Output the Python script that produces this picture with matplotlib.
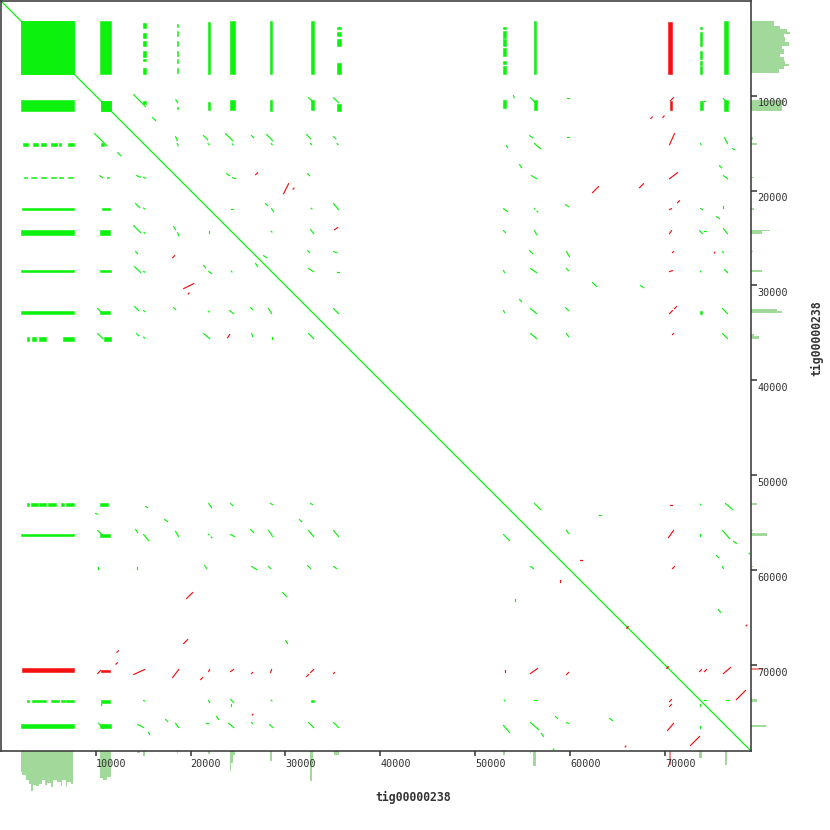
import matplotlib
matplotlib.use("Agg")
import matplotlib.pyplot as plt
from matplotlib.collections import LineCollection
from matplotlib.patches import Rectangle
from matplotlib.transforms import ScaledTranslation
import numpy as np

# ---------------- data (kb) ----------------
seq_name = "tig00000238"
seq_len = 79.0
tick_vals = [10, 20, 30, 40, 50, 60, 70]
tick_labels = ["10000", "20000", "30000", "40000", "50000", "60000", "70000"]

# dense self-alignment blocks (upper triangle; mirrored when drawn)
blk_x0 = [2.11, 10.43, 10.53, 14.96, 18.55, 21.80, 24.12, 28.33, 32.65, 35.39, 52.88, 56.14, 70.47, 73.63, 76.26, 73.63]
blk_x1 = [7.69, 11.59, 11.59, 15.27, 18.70, 22.01, 24.65, 28.60, 32.97, 35.81, 53.19, 56.46, 70.68, 74.00, 76.68, 73.94]
blk_y0 = [2.11, 2.11, 10.53, 10.53, 11.17, 10.64, 10.43, 10.43, 10.43, 10.85, 10.43, 10.43, 10.53, 10.53, 10.43, 32.65]
blk_y1 = [7.69, 7.69, 11.59, 10.85, 11.45, 11.48, 11.48, 11.59, 11.48, 11.59, 11.27, 11.48, 11.48, 11.48, 11.59, 32.97]
blk_strand = ["+"] * 12 + ["-", "+", "+", "+"]

# repeat-copy bands against the tandem array (x range, y pieces)
copy_x0 = [14.96, 18.54, 21.80, 24.12, 28.33, 32.65, 35.39, 52.88, 56.14, 70.36, 73.63, 76.26]
copy_x1 = [15.27, 18.70, 22.01, 24.65, 28.54, 32.97, 35.81, 53.19, 56.35, 70.68, 73.94, 76.68]
copy_strand = ["+", "+", "+", "+", "+", "+", "+", "+", "+", "-", "+", "+"]
copy_pieces = [
    [(2.32, 2.84), (3.37, 3.90), (4.21, 4.74), (5.27, 5.90), (6.11, 6.32), (7.06, 7.69)],
    [(2.42, 2.74), (3.16, 3.69), (4.21, 4.74), (5.27, 5.79), (6.11, 6.53), (7.06, 7.58)],
    [(2.21, 7.69)],
    [(2.11, 7.69)],
    [(2.11, 7.69)],
    [(2.11, 7.69)],
    [(2.74, 2.95), (3.27, 3.69), (4.00, 4.74), (6.53, 7.69)],
    [(2.74, 2.95), (3.16, 3.90), (4.00, 4.74), (4.95, 5.79), (6.32, 6.64), (6.85, 7.69)],
    [(2.11, 7.69)],
    [(2.21, 7.69)],
    [(2.74, 2.95), (3.27, 4.74), (5.27, 6.11), (6.32, 6.74), (6.85, 7.69)],
    [(2.11, 7.69)],
]

# individual alignments (upper triangle; mirrored when drawn)
seg_x0 = [14.01, 18.45, 32.44, 35.07, 55.82, 70.57, 74.15, 76.15, 54.03, 59.62, 68.50, 69.76, 16.01,
          18.43, 18.60, 21.38, 21.85, 23.70, 24.40, 26.44, 28.02, 28.50, 32.23, 32.65, 35.07, 35.45, 53.30,
          55.72, 56.25, 59.62, 70.47, 73.73, 76.26, 77.10,
          23.80, 24.44, 26.86, 32.34, 29.81, 30.80, 54.67, 55.93, 70.47, 75.73, 76.15, 62.36, 67.31,
          24.23, 27.91, 28.54, 32.72, 35.07, 52.98, 56.22, 56.52, 59.51, 71.31, 70.47, 73.73, 76.15, 75.42,
          28.50, 32.65, 35.18, 52.98, 56.25, 70.47, 73.63, 74.15, 76.15,
          32.34, 35.07, 27.70, 55.72, 59.62, 70.78, 75.18, 76.05,
          32.44, 35.39, 52.98, 55.82, 59.62, 70.47, 73.70, 76.26,
          62.36, 67.41, 54.67,
          35.07, 52.98, 55.82, 59.51, 70.47, 70.99, 76.05,
          55.82, 59.62, 70.78, 76.05,
          56.25, 62.99, 70.47, 73.70, 76.37,
          59.62, 70.36, 73.73, 76.05, 77.21, 78.85, 60.99, 75.42, 70.78, 76.05, 75.63, 78.54, 65.98, 70.20,
          73.63, 74.15, 76.15, 77.52,
          74.15, 76.47]
seg_y0 = [9.90, 10.45, 10.22, 10.22, 10.22, 10.53, 10.53, 10.32, 10.00, 10.22, 12.40, 12.30, 12.32,
          14.33, 15.06, 14.22, 15.06, 14.01, 15.10, 14.22, 14.11, 15.06, 14.11, 15.06, 14.33, 15.06, 15.27,
          14.22, 15.06, 14.33, 15.17, 15.06, 14.43, 15.59,
          18.22, 18.64, 18.33, 18.22, 20.33, 19.85, 17.27, 18.43, 18.75, 17.38, 18.43, 20.22, 19.70,
          21.91, 21.38, 21.91, 21.88, 21.38, 21.91, 21.88, 22.18, 21.49, 21.28, 22.01, 21.91, 21.59, 22.75,
          24.30, 24.12, 24.12, 24.23, 24.23, 24.54, 24.23, 24.23, 24.02,
          26.33, 26.44, 26.86, 26.33, 26.44, 26.54, 26.58, 26.44,
          28.23, 28.54, 28.44, 28.23, 28.23, 28.54, 28.50, 28.33,
          29.70, 30.02, 31.49,
          32.44, 32.65, 32.44, 32.34, 32.97, 32.44, 32.44,
          35.07, 35.07, 35.18, 35.07,
          52.98, 54.24, 53.09, 53.05, 52.98,
          55.82, 56.56, 56.14, 55.82, 56.98, 58.21, 58.88, 58.46, 59.83, 59.62, 64.15, 65.87, 66.10, 70.32,
          70.68, 70.68, 70.89, 73.63,
          73.73, 73.73]
seg_x1 = [15.27, 18.65, 32.76, 35.60, 56.35, 70.89, 74.20, 76.68, 54.10, 59.83, 68.64, 69.90, 16.33,
          18.60, 18.70, 21.80, 21.95, 24.44, 24.50, 26.65, 28.65, 28.60, 32.65, 32.76, 35.30, 35.55, 53.40,
          56.04, 56.88, 59.83, 70.99, 73.78, 76.58, 77.31,
          24.12, 24.75, 27.07, 32.55, 30.33, 30.90, 54.88, 56.46, 71.31, 75.94, 76.58, 62.99, 67.73,
          24.44, 28.12, 28.75, 32.80, 35.60, 53.40, 56.28, 56.60, 59.83, 71.52, 70.68, 73.94, 76.15, 75.73,
          28.58, 32.97, 35.50, 53.19, 56.46, 70.68, 73.94, 74.36, 76.58,
          32.55, 35.39, 28.02, 56.04, 59.93, 70.89, 75.25, 76.15,
          32.97, 35.60, 53.09, 56.46, 59.83, 70.78, 73.77, 76.58,
          62.78, 67.73, 54.88,
          35.60, 53.09, 56.46, 59.83, 70.78, 71.20, 76.58,
          56.46, 59.83, 70.89, 76.58,
          56.88, 63.20, 70.68, 73.77, 77.10,
          59.83, 70.89, 73.73, 76.79, 77.52, 78.92, 61.20, 75.63, 70.99, 76.15, 75.84, 78.62, 66.10, 70.32,
          73.84, 74.36, 76.89, 78.47,
          74.36, 76.68]
seg_y1 = [11.17, 10.75, 10.53, 10.75, 10.75, 10.22, 10.53, 10.85, 10.22, 10.22, 12.25, 12.15, 12.64,
          14.75, 15.27, 14.64, 15.17, 14.75, 15.20, 14.43, 14.75, 15.17, 14.54, 15.17, 14.54, 15.17, 15.48,
          14.43, 15.59, 14.33, 14.01, 15.17, 15.06, 15.69,
          18.43, 18.75, 18.12, 18.43, 19.28, 19.75, 17.59, 18.75, 18.12, 17.59, 18.75, 19.59, 19.28,
          21.91, 21.59, 22.22, 21.95, 22.01, 22.22, 21.95, 22.25, 21.70, 21.07, 21.91, 22.01, 21.80, 22.96,
          24.37, 24.54, 23.91, 24.44, 24.65, 24.23, 24.54, 24.23, 24.54,
          26.54, 26.54, 27.07, 26.65, 26.96, 26.44, 26.50, 26.54,
          28.54, 28.54, 28.65, 28.65, 28.44, 28.44, 28.58, 28.65,
          30.12, 30.23, 31.70,
          32.97, 32.86, 32.97, 32.65, 32.65, 32.23, 32.97,
          35.60, 35.39, 35.07, 35.60,
          53.61, 54.24, 53.09, 53.12, 53.61,
          56.14, 55.82, 56.35, 56.67, 57.19, 58.28, 58.88, 58.67, 59.62, 59.83, 64.46, 65.79, 65.98, 70.20,
          70.47, 70.47, 70.26, 72.68,
          73.73, 73.73]
seg_strand = (["+"] * 5 + ["-", "+", "+", "+", "+", "-", "-", "+"]
              + ["+"] * 17 + ["-", "+", "+", "+"]
              + ["+", "+", "-", "+", "-", "-", "+", "+", "-", "+", "+", "-", "-"]
              + ["+"] * 9 + ["-", "-", "+", "+", "+"]
              + ["+", "+", "-", "+", "+", "-", "+", "+", "+"]
              + ["+", "+", "+", "+", "+", "-", "-", "+"]
              + ["+", "+", "+", "+", "+", "-", "+", "+"]
              + ["+", "+", "+"]
              + ["+", "+", "+", "+", "-", "-", "+"]
              + ["+", "+", "-", "+"]
              + ["+", "+", "-", "+", "+"]
              + ["+", "-", "+", "+", "+", "+", "-", "+", "-", "+", "+", "-", "-", "-"]
              + ["-", "-", "-", "-"]
              + ["+", "+"])

# coverage histograms (depth in display units)
hA_edges = [2.11, 2.28, 2.63, 2.98, 3.23, 3.41, 3.69, 4.04, 4.39, 4.63, 4.92, 5.27, 5.55, 5.97, 6.32, 6.50, 6.85, 7.02, 7.37, 7.65]
hA_depth = [21, 24, 29, 33, 40, 34, 35, 33, 29, 34, 32, 36, 29, 31, 35, 29, 36, 31, 33]
hB_start = [10.43, 10.80, 11.20, 14.33, 14.96, 18.60, 21.85, 24.12, 24.30, 24.50, 28.40, 32.55, 32.75, 35.10, 52.90, 55.80, 56.10, 73.60, 76.30, 70.40]
hB_end = [10.80, 11.20, 11.59, 14.65, 15.17, 18.70, 22.00, 24.30, 24.50, 24.65, 28.55, 32.75, 32.95, 35.60, 53.10, 55.90, 56.35, 73.85, 76.55, 70.60]
hB_depth = [27, 29, 26, 2, 5, 2, 3, 20, 12, 4, 10, 30, 14, 4, 4, 2, 15, 7, 14, 14]
hB_strand = ["+"] * 19 + ["-"]

vA_edges = [2.11, 2.63, 2.98, 3.34, 3.51, 3.86, 4.39, 4.74, 5.09, 5.62, 5.97, 6.32, 6.67, 6.92, 7.20, 7.65]
vA_width = [23, 29, 36, 39, 33, 34, 38, 31, 33, 29, 33, 34, 38, 33, 28]
vB_start = [10.43, 11.00, 14.33, 14.96, 18.55, 21.85, 24.12, 24.30, 26.40, 28.35, 32.50, 32.70, 35.10, 35.30, 52.90, 55.80, 56.10, 59.60, 73.60, 76.30, 70.30]
vB_end = [11.00, 11.59, 14.65, 15.17, 18.70, 22.00, 24.30, 24.55, 26.50, 28.55, 32.70, 32.90, 35.30, 35.60, 53.10, 55.90, 56.35, 59.70, 73.85, 76.55, 70.50]
vB_width = [33, 31, 2, 6, 3, 3, 19, 11, 2, 11, 26, 31, 3, 8, 6, 2, 16, 2, 6, 15, 11]
vB_strand = ["+"] * 20 + ["-"]

# ---------------- styles ----------------
GREEN = "#0cf20c"
RED = "#f51010"
HGREEN = "#a1d99b"
HRED = "#f28e8e"
DARK = "#333333"
col = {"+": GREEN, "-": RED}
hcol = {"+": HGREEN, "-": HRED}

W = H = 830
fig = plt.figure(figsize=(8.3, 8.3), dpi=100)
fig.patch.set_facecolor("white")


def fx(p):
    return p / W


def fy(p):
    return 1 - p / H


x_left, x_right, y_top, y_bot = 0.7, 750.5, 0.7, 750.5
ax = fig.add_axes([fx(x_left), fy(y_bot), (x_right - x_left) / W, (y_bot - y_top) / H], zorder=3)
ax.set_xlim(0, seq_len)
ax.set_ylim(seq_len, 0)

# diagonal
ax.plot([0, seq_len], [0, seq_len], color=GREEN, lw=0.9, solid_capstyle="butt", zorder=2)


def add_rect(x0, x1, y0, y1, c):
    ax.add_patch(Rectangle((x0, y0), x1 - x0, y1 - y0, facecolor=c, edgecolor=c, lw=0.4, zorder=3))


for x0, x1, y0, y1, s in zip(blk_x0, blk_x1, blk_y0, blk_y1, blk_strand):
    add_rect(x0, x1, y0, y1, col[s])
    add_rect(y0, y1, x0, x1, col[s])

for x0, x1, s, pieces in zip(copy_x0, copy_x1, copy_strand, copy_pieces):
    for (y0, y1) in pieces:
        add_rect(x0, x1, y0, y1, col[s])
        add_rect(y0, y1, x0, x1, col[s])

# segments
lines = []
colors = []
for x0, y0, x1, y1, s in zip(seg_x0, seg_y0, seg_x1, seg_y1, seg_strand):
    lines.append([(x0, y0), (x1, y1)])
    lines.append([(y0, x0), (y1, x1)])
    colors += [col[s], col[s]]
lc = LineCollection(lines, colors=colors, linewidths=0.85, capstyle="projecting", zorder=4)
ax.add_collection(lc)

# axes styling
for sp in ax.spines.values():
    sp.set_color(DARK)
    sp.set_linewidth(1.1)
ax.yaxis.tick_right()
ax.set_xticks(tick_vals)
ax.set_xticklabels(tick_labels, ha="left", family="DejaVu Sans Mono")
ax.set_yticks(tick_vals)
ax.set_yticklabels(tick_labels, ha="left", va="top", family="DejaVu Sans Mono")
ax.tick_params(axis="x", direction="out", length=3.8, width=1.1, pad=2.2, labelsize=7.3,
               colors=DARK, labelcolor=DARK)
ax.tick_params(axis="y", direction="out", length=4.2, width=1.1, pad=0.8, labelsize=7.3,
               colors=DARK, labelcolor=DARK)
off = ScaledTranslation(0, -2.5 / 100, fig.dpi_scale_trans)
for lab in ax.get_yticklabels():
    lab.set_transform(lab.get_transform() + off)

# bottom histogram
hb = fig.add_axes([fx(x_left), fy(800), (x_right - x_left) / W, (800 - y_bot) / H], zorder=1)
hb.set_xlim(0, seq_len)
hb.set_ylim(800 - y_bot, 0)
hb.axis("off")
hb.bar(hA_edges[:-1], hA_depth, width=np.diff(hA_edges), align="edge", color=HGREEN, lw=0)
hb.bar(hB_start, hB_depth, width=np.array(hB_end) - np.array(hB_start), align="edge",
       color=[hcol[s] for s in hB_strand], lw=0)

# right histogram
hr = fig.add_axes([fx(x_right), fy(y_bot), (800 - x_right) / W, (y_bot - y_top) / H], zorder=1)
hr.set_ylim(seq_len, 0)
hr.set_xlim(0, 800 - x_right)
hr.axis("off")
hr.barh(vA_edges[:-1], vA_width, height=np.diff(vA_edges), align="edge", color=HGREEN, lw=0)
hr.barh(vB_start, vB_width, height=np.array(vB_end) - np.array(vB_start), align="edge",
        color=[hcol[s] for s in vB_strand], lw=0)

# titles
fig.text(fx(413), fy(797), seq_name, ha="center", va="center", fontsize=8.3,
         fontweight="bold", family="DejaVu Sans Mono", color=DARK)
fig.text(fx(817), fy(338), seq_name, ha="center", va="center", rotation=90, fontsize=8.3,
         fontweight="bold", family="DejaVu Sans Mono", color=DARK)

fig.savefig("out.png", dpi=100, facecolor="white")
